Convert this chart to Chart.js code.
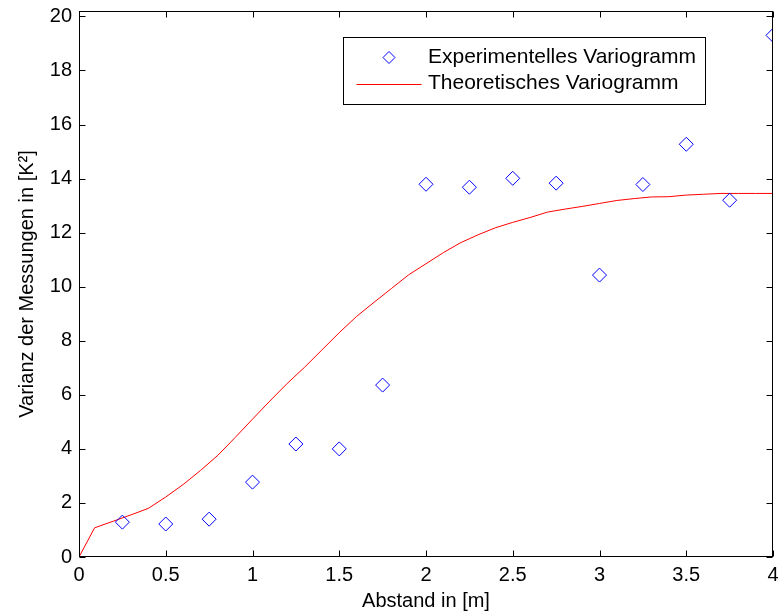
<!DOCTYPE html>
<html><head><meta charset="utf-8">
<script src="https://cdn.jsdelivr.net/npm/chart.js@4"></script>
<style>html,body{margin:0;padding:0;background:#fff;}#wrap{width:781px;height:614px;}</style>
</head><body><div id="wrap"><canvas id="c" width="781" height="614"></canvas></div>
<script>
// ---- data ----
const expDistances = [0.25, 0.5, 0.75, 1.0, 1.25, 1.5, 1.75, 2.0, 2.25, 2.5, 2.75, 3.0, 3.25, 3.5, 3.75, 4.0];
const expValues    = [1.29, 1.22, 1.40, 2.77, 4.18, 4.00, 6.36, 13.79, 13.68, 14.01, 13.83, 10.43, 13.78, 15.27, 13.20, 19.30];
const theoDistances = [0, 0.09, 0.2, 0.3, 0.4, 0.5, 0.6, 0.7, 0.8, 0.9, 1.0, 1.1, 1.2, 1.3, 1.4, 1.5, 1.6, 1.7, 1.8, 1.9, 2.0,
                       2.1, 2.2, 2.3, 2.4, 2.5, 2.6, 2.7, 2.8, 2.9, 3.0, 3.1, 3.2, 3.3, 3.4, 3.5, 3.6, 3.7, 3.8, 3.9, 4.0];
const theoValues    = [0, 1.08, 1.33, 1.56, 1.80, 2.22, 2.68, 3.20, 3.76, 4.42, 5.10, 5.77, 6.42, 7.02, 7.66, 8.30, 8.90, 9.42, 9.93, 10.44, 10.85,
                       11.26, 11.63, 11.92, 12.18, 12.38, 12.56, 12.76, 12.87, 12.97, 13.08, 13.19, 13.26, 13.32, 13.33, 13.39, 13.42, 13.45, 13.45, 13.45, 13.45];
const xTickValues = [0, 0.5, 1, 1.5, 2, 2.5, 3, 3.5, 4];
const yTickValues = [0, 2, 4, 6, 8, 10, 12, 14, 16, 18, 20];
const seriesLabels = ['Experimentelles Variogramm', 'Theoretisches Variogramm'];
const xTitle = 'Abstand in [m]';
const yTitle = 'Varianz der Messungen in [K\u00B2]';

// ---- styling ----
const FONT_FAMILY = '"Liberation Sans", Arial, Helvetica, sans-serif';
const FONT_SIZE = 20;
const LEGEND_FONT_SIZE = 21;
const font = {family: FONT_FAMILY, size: FONT_SIZE, lineHeight: 1.2};

function diamond(ctx, x, y, r) {
  ctx.beginPath();
  ctx.moveTo(x - r, y); ctx.lineTo(x, y - r); ctx.lineTo(x + r, y); ctx.lineTo(x, y + r); ctx.closePath();
  ctx.stroke();
}

const axesBoxPlugin = {
  id: 'axesBox',
  afterDatasetsDraw(chart) {
    const ctx = chart.ctx, a = chart.chartArea;
    const xs = chart.scales.x, ys = chart.scales.y;
    const L = Math.round(a.left) + 0.5, R = Math.round(a.right) - 0.5, T = Math.round(a.top) + 0.5, B = Math.round(a.bottom) - 0.5;
    ctx.save();
    ctx.strokeStyle = '#000'; ctx.lineWidth = 1;
    ctx.strokeRect(L, T, R - L, B - T);
    const tl = 6;
    ctx.beginPath();
    xs.ticks.forEach(t => {
      const px = Math.round(xs.getPixelForValue(t.value)) + 0.5;
      ctx.moveTo(px, B); ctx.lineTo(px, B - tl);
      ctx.moveTo(px, T); ctx.lineTo(px, T + tl);
    });
    ys.ticks.forEach(t => {
      const py = Math.round(ys.getPixelForValue(t.value)) + 0.5;
      ctx.moveTo(L, py); ctx.lineTo(L + tl, py);
      ctx.moveTo(R, py); ctx.lineTo(R - tl, py);
    });
    ctx.stroke();
    ctx.restore();
  }
};

const boxLegendPlugin = {
  id: 'boxLegend',
  afterDatasetsDraw(chart) {
    const ctx = chart.ctx, a = chart.chartArea;
    const bx = Math.round(a.left) + 264.5, by = Math.round(a.top) + 26.5, bw = 362, bh = 67;
    ctx.save();
    ctx.fillStyle = '#fff'; ctx.fillRect(bx, by, bw, bh);
    ctx.strokeStyle = '#000'; ctx.lineWidth = 1; ctx.strokeRect(bx, by, bw, bh);
    const ds = chart.data.datasets;
    const row1 = by + 20, row2 = by + 46;
    const symX = bx + 45.5;
    ctx.strokeStyle = ds[0].borderColor; ctx.lineWidth = 1;
    diamond(ctx, symX, row1, 6);
    ctx.strokeStyle = ds[1].borderColor;
    ctx.beginPath(); ctx.moveTo(bx + 13, Math.round(row2) + 0.5); ctx.lineTo(bx + 78, Math.round(row2) + 0.5); ctx.stroke();
    ctx.fillStyle = '#000';
    ctx.font = LEGEND_FONT_SIZE + 'px ' + FONT_FAMILY;
    ctx.textBaseline = 'middle'; ctx.textAlign = 'left';
    ctx.fillText(ds[0].label, bx + 84.5, row1);
    ctx.fillText(ds[1].label, bx + 84.5, row2);
    ctx.restore();
  }
};

const chart = new Chart(document.getElementById('c'), {
  type: 'scatter',
  data: {
    datasets: [
      {
        label: seriesLabels[0],
        data: expDistances.map((x, i) => ({x, y: expValues[i]})),
        showLine: false,
        pointStyle: 'rectRot',
        pointRadius: 7,
        pointBorderWidth: 1,
        borderColor: '#0000ff',
        backgroundColor: 'rgba(0,0,0,0)',
        pointBackgroundColor: 'rgba(0,0,0,0)',
        order: 1
      },
      {
        label: seriesLabels[1],
        data: theoDistances.map((x, i) => ({x, y: theoValues[i]})),
        showLine: true,
        pointRadius: 0,
        borderWidth: 1,
        borderColor: '#ff0000',
        backgroundColor: '#ff0000',
        tension: 0,
        order: 2
      }
    ]
  },
  options: {
    responsive: false,
    animation: false,
    devicePixelRatio: 1,
    layout: {padding: {top: 11, right: 4, left: 0, bottom: 0}},
    plugins: {legend: {display: false}, tooltip: {enabled: false}},
    scales: {
      x: {
        type: 'linear', min: 0, max: 4,
        afterBuildTicks: s => { s.ticks = xTickValues.map(v => ({value: v})); },
        afterFit: s => { s.height = 57; s.paddingLeft = 0; s.paddingRight = 0; },
        grid: {display: false, drawTicks: false},
        border: {display: false},
        ticks: {font, color: '#000', padding: 6, maxRotation: 0, autoSkip: false, callback: v => String(v)},
        title: {display: true, text: xTitle, font, color: '#000', padding: {top: 0, bottom: 1}}
      },
      y: {
        type: 'linear', min: 0, max: 20.2,
        afterBuildTicks: s => { s.ticks = yTickValues.map(v => ({value: v})); },
        afterFit: s => { s.width = 79; s.paddingTop = 0; s.paddingBottom = 0; },
        grid: {display: false, drawTicks: false},
        border: {display: false},
        ticks: {font, color: '#000', padding: 7, autoSkip: false, callback: v => String(v)},
        title: {display: true, text: yTitle, font, color: '#000', padding: {top: 15, bottom: 0}}
      }
    }
  },
  plugins: [axesBoxPlugin, boxLegendPlugin]
});
</script>
</body></html>
